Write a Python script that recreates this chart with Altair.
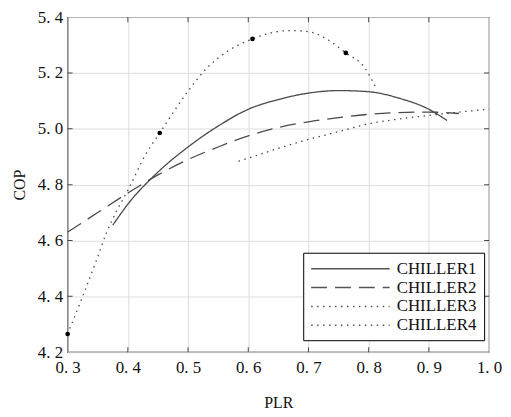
import altair as alt
import pandas as pd

# ---- data ----
c1_x = [0.375, 0.40, 0.45, 0.50, 0.55, 0.60, 0.65, 0.70, 0.75, 0.80, 0.85, 0.90, 0.93]
c1_y = [4.655, 4.73, 4.845, 4.935, 5.01, 5.07, 5.105, 5.128, 5.137, 5.133, 5.11, 5.07, 5.03]

c2_x = [0.30, 0.35, 0.40, 0.45, 0.50, 0.55, 0.60, 0.65, 0.70, 0.75, 0.80, 0.85, 0.90, 0.95]
c2_y = [4.63, 4.70, 4.77, 4.835, 4.89, 4.935, 4.975, 5.005, 5.025, 5.04, 5.052, 5.058, 5.06, 5.055]

c3_x = [0.584, 0.60, 0.65, 0.70, 0.75, 0.80, 0.85, 0.90, 0.95, 1.00]
c3_y = [4.884, 4.895, 4.93, 4.962, 4.99, 5.018, 5.035, 5.048, 5.06, 5.07]

c4_x = [0.30, 0.325, 0.348, 0.365, 0.38, 0.40, 0.43, 0.453, 0.50, 0.53, 0.567, 0.607,
        0.64, 0.67, 0.70, 0.73, 0.762, 0.793, 0.812]
c4_y = [4.265, 4.40, 4.53, 4.63, 4.70, 4.78, 4.91, 4.985, 5.135, 5.215, 5.28, 5.322,
        5.345, 5.352, 5.348, 5.322, 5.272, 5.22, 5.147]

c4_mark_x = [0.30, 0.453, 0.607, 0.762]
c4_mark_y = [4.265, 4.985, 5.322, 5.272]

series = ["CHILLER1", "CHILLER2", "CHILLER3", "CHILLER4"]

x_ticks = [0.3, 0.4, 0.5, 0.6, 0.7, 0.8, 0.9, 1.0]
y_ticks = [4.2, 4.4, 4.6, 4.8, 5.0, 5.2, 5.4]

# ---- build tables ----
rows = []
for name, xs, ys in zip(series, [c1_x, c2_x, c3_x, c4_x], [c1_y, c2_y, c3_y, c4_y]):
    for a, b in zip(xs, ys):
        rows.append({"series": name, "PLR": a, "COP": b})
lines_df = pd.DataFrame(rows)
marks_df = pd.DataFrame({"PLR": c4_mark_x, "COP": c4_mark_y})

xt_df = pd.DataFrame({"v": x_ticks[1:-1]})
yt_df = pd.DataFrame({"v": y_ticks[1:-1]})

FONT = "Liberation Serif"
LABEL_EXPR = "replace(format(datum.value, '.1f'), '.', '. ')"
xscale = alt.Scale(domain=[0.3, 1.0], nice=False, zero=False)
yscale = alt.Scale(domain=[4.2, 5.4], nice=False, zero=False)

axis_common = dict(format=".1f", labelExpr=LABEL_EXPR, grid=True, gridColor="#dddddd",
                   ticks=False, domain=False, labelFont=FONT, labelFontSize=17,
                   labelColor="#111", titleFont=FONT, titleFontSize=16,
                   titleFontWeight="normal", titleColor="#111", labelFlush=False,
                   labelOverlap=False)

lines = alt.Chart(lines_df).mark_line(strokeWidth=1.3, interpolate="monotone", clip=True).encode(
    x=alt.X("PLR:Q", scale=xscale,
            axis=alt.Axis(values=x_ticks, title="PLR", labelPadding=7, titlePadding=20,
                          **axis_common)),
    y=alt.Y("COP:Q", scale=yscale,
            axis=alt.Axis(values=y_ticks, title="COP", labelPadding=5, titlePadding=10,
                          **axis_common)),
    strokeDash=alt.StrokeDash("series:N",
                              scale=alt.Scale(domain=series,
                                              range=[[1, 0], [16, 8], [1.5, 4.5], [1.5, 4.5]]),
                              legend=alt.Legend(title=None, orient="none", legendX=237, legendY=237,
                                                symbolType="M-1,0L8.875,0", symbolSize=256,
                                                symbolStrokeWidth=1.5, symbolStrokeColor="#555",
                                                labelFont=FONT, labelFontSize=17,
                                                labelColor="#111", rowPadding=2,
                                                strokeColor="black", fillColor="white",
                                                padding=7, labelOffset=69)),
    color=alt.value("#4a4a4a"),
)

markers = alt.Chart(marks_df).mark_circle(size=22, color="black", opacity=1).encode(
    x=alt.X("PLR:Q", scale=xscale),
    y=alt.Y("COP:Q", scale=yscale),
)

tick_style = dict(color="black", thickness=1, size=10, clip=True)
bt = alt.Chart(xt_df).mark_tick(orient="vertical", **tick_style).encode(
    x=alt.X("v:Q", scale=xscale), y=alt.datum(4.2))
tt = alt.Chart(xt_df).mark_tick(orient="vertical", **tick_style).encode(
    x=alt.X("v:Q", scale=xscale), y=alt.datum(5.4))
lt = alt.Chart(yt_df).mark_tick(orient="horizontal", **tick_style).encode(
    y=alt.Y("v:Q", scale=yscale), x=alt.datum(0.3))
rt = alt.Chart(yt_df).mark_tick(orient="horizontal", **tick_style).encode(
    y=alt.Y("v:Q", scale=yscale), x=alt.datum(1.0))

chart = alt.layer(lines, markers, bt, tt, lt, rt).properties(
    width=424, height=337,
    autosize=alt.AutoSizeParams(type="none"),
    padding={"left": 60, "top": 8, "right": 14, "bottom": 62},
    background="white",
).configure_view(stroke="black", strokeWidth=1.2)

chart.save("out.html", embed_options={"renderer": "svg", "actions": False})
